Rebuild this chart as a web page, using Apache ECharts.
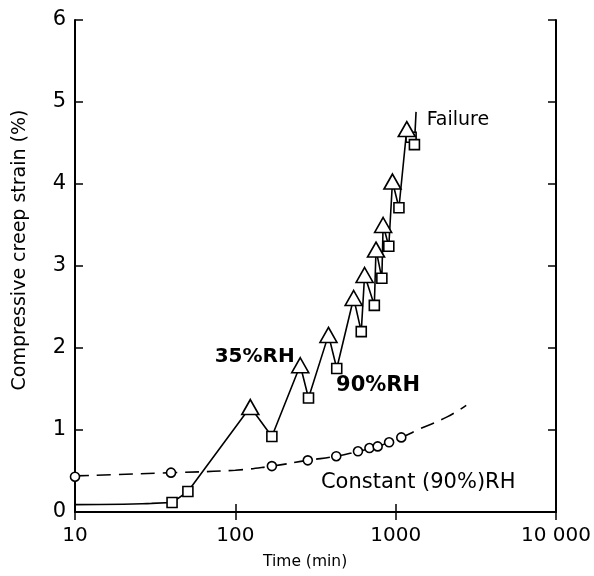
<!DOCTYPE html>
<html>
<head>
<meta charset="utf-8">
<script src="https://cdn.jsdelivr.net/npm/echarts@6/dist/echarts.min.js"></script>
<style>
html,body{margin:0;padding:0;background:#fff;}
#c{width:594px;height:576px;}
</style>
</head>
<body>
<div id="c"></div>
<script>
// ---- data ----
// initial (smooth) part of the cyclic-RH curve
const startTimes   = [10, 20, 30, 40.3];
const startStrains = [0.09, 0.095, 0.105, 0.115];
// 35% RH end points (triangles)
const peakTimes   = [124, 254, 381, 547, 640, 754, 835, 955, 1173];
const peakStrains = [1.28, 1.79, 2.16, 2.61, 2.89, 3.20, 3.50, 4.03, 4.67];
// 90% RH end points (squares)
const troughTimes   = [40.3, 50.6, 169, 286, 429, 610, 736, 820, 906, 1048, 1248, 1309];
const troughStrains = [0.115, 0.25, 0.92, 1.39, 1.75, 2.20, 2.52, 2.85, 3.24, 3.71, 4.57, 4.48];
// failure mark end of curve
const failureTime = [1340];
const failureStrain = [4.88];
// constant 90% RH (circles)
const constTimes   = [10, 39.7, 169, 283, 426, 582, 686, 772, 910, 1084];
const constStrains = [0.43, 0.48, 0.56, 0.63, 0.68, 0.74, 0.78, 0.80, 0.85, 0.91];
// dashed fitted curve for constant RH
const constCurveTimes   = [10, 39.7, 100, 169, 283, 426, 582, 772, 1084, 1440, 2094, 2754];
const constCurveStrains = [0.44, 0.48, 0.51, 0.56, 0.63, 0.68, 0.74, 0.80, 0.91, 1.02, 1.16, 1.30];
// axis ticks
const xTicks = [10, 100, 1000, 10000];
const xTickLabels = ['10', '100', '1000', '10 000'];
const yTicks = [0, 1, 2, 3, 4, 5, 6];
// annotations
const noteTexts   = ['Failure', '35%RH', '90%RH', 'Constant (90%)RH'];
const noteTimes   = [1560, 74.3, 425, 342];
const noteStrains = [4.78, 1.89, 1.54, 0.354];
const xTitle = 'Time (min)';
const yTitle = 'Compressive creep strain (%)';

// ---- build ----
const zip = (a, b) => a.map((v, i) => [v, b[i]]);
const zigzag = zip(peakTimes, peakStrains).concat(zip(troughTimes, troughStrains))
  .sort((p, q) => p[0] - q[0])
  .concat(zip(failureTime, failureStrain));

const FONT = 'DejaVu Sans';
const black = '#000';

const chart = echarts.init(document.getElementById('c'), null, {renderer: 'canvas'});
const xCommon = {
  type: 'log', logBase: 10, min: 10, max: 10000,
  splitLine: {show: false},
  minorTick: {show: false},
  axisLine: {show: true, lineStyle: {color: black, width: 2}},
  axisTick: {show: true, inside: true, length: 8, lineStyle: {color: black, width: 1.5}}
};
const yCommon = {
  type: 'value', min: 0, max: 6, interval: 1,
  splitLine: {show: false},
  axisLine: {show: true, lineStyle: {color: black, width: 2}},
  axisTick: {show: true, inside: true, length: 8, lineStyle: {color: black, width: 1.5}}
};
const sym = {color: '#fff', borderColor: black, borderWidth: 1.6, opacity: 1};
const noteSizes = [19, 20, 21, 21];
const noteWeights = ['normal', 'bold', 'bold', 'normal'];

chart.setOption({
  animation: false,
  backgroundColor: '#fff',
  grid: {left: 75, right: 30, top: 20, bottom: 64},
  graphic: [
    {type: 'text', left: 263, top: 554, silent: true,
     style: {text: xTitle, fontFamily: FONT, fontSize: 15.5, fill: black}},
    {type: 'text', x: 20, y: 250, rotation: Math.PI / 2, silent: true,
     style: {text: yTitle, fontFamily: FONT, fontSize: 19, fill: black,
             textAlign: 'center', textVerticalAlign: 'middle'}}
  ],
  xAxis: [
    Object.assign({}, xCommon, {
      position: 'bottom',
      axisLabel: {
        fontFamily: FONT, fontSize: 20, color: black, margin: 14,
        formatter: v => { const i = xTicks.indexOf(Math.round(v)); return i >= 0 ? xTickLabels[i] : ''; }
      }
    }),
    Object.assign({}, xCommon, {position: 'top', axisLabel: {show: false}})
  ],
  yAxis: [
    Object.assign({}, yCommon, {
      position: 'left',
      axisLabel: {fontFamily: FONT, fontSize: 21, color: black, margin: 9,
        formatter: v => yTicks.indexOf(v) >= 0 ? String(v) : ''}
    }),
    Object.assign({}, yCommon, {position: 'right', axisLabel: {show: false}})
  ],
  series: [
    {type: 'line', smooth: true, symbol: 'none', data: zip(startTimes, startStrains),
     lineStyle: {color: black, width: 1.6}, z: 2},
    {type: 'line', smooth: false, symbol: 'none', data: zigzag,
     lineStyle: {color: black, width: 1.6}, z: 2},
    {type: 'line', smooth: true, symbol: 'none', data: zip(constCurveTimes, constCurveStrains),
     lineStyle: {color: black, width: 1.6, type: [14, 8]}, z: 2},
    {type: 'scatter', symbol: 'circle', symbolSize: 9, clip: false,
     data: zip(constTimes, constStrains), itemStyle: sym, z: 3},
    {type: 'scatter', symbol: 'rect', symbolSize: 10, clip: false,
     data: zip(troughTimes, troughStrains), itemStyle: sym, z: 3},
    {type: 'scatter', symbol: 'triangle', symbolSize: [17, 15], clip: false,
     data: zip(peakTimes, peakStrains), itemStyle: sym, z: 4},
    {type: 'scatter', symbolSize: 0, clip: false, z: 5,
     itemStyle: {opacity: 1},
     data: noteTexts.map((t, i) => ({value: [noteTimes[i], noteStrains[i]], name: t,
       label: {fontSize: noteSizes[i], fontWeight: noteWeights[i], color: black}})),
     label: {show: true, position: 'right', distance: 0, formatter: p => p.name,
       fontFamily: FONT, color: black, align: 'left', verticalAlign: 'middle'},
     emphasis: {disabled: true}}
  ]
});
</script>
</body>
</html>
